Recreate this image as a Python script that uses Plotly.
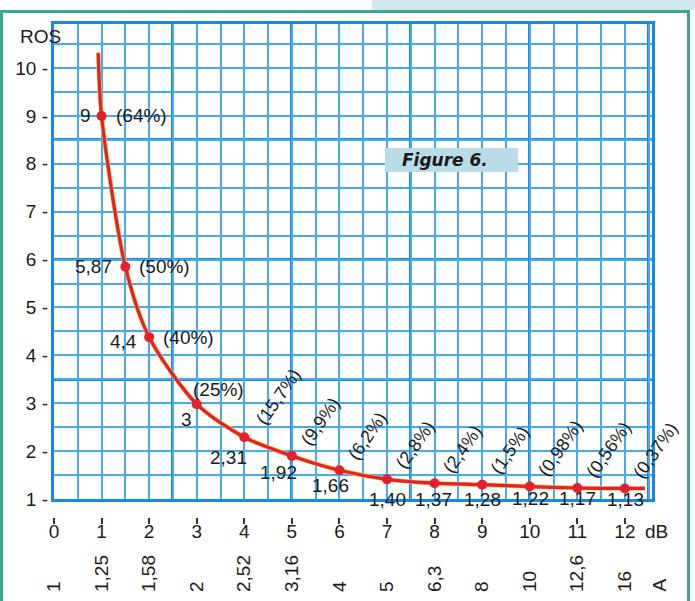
import plotly.graph_objects as go

# ---------------- data ----------------
db_points = [1, 1.5, 2, 3, 4, 5, 6, 7, 8, 9, 10, 11, 12]
ros_points = [9.0, 5.85, 4.38, 2.98, 2.29, 1.90, 1.60, 1.41, 1.33, 1.30, 1.26, 1.23, 1.22]
ros_labels = ["9", "5,87", "4,4", "3", "2,31", "1,92", "1,66", "1,40", "1,37",
              "1,28", "1,22", "1,17", "1,13"]
pct_labels = ["(64%)", "(50%)", "(40%)", "(25%)", "(15,7%)", "(9,9%)", "(6,2%)",
              "(2,8%)", "(2,4%)", "(1,5%)", "(0,98%)", "(0,56%)", "(0,37%)"]
curve_start_db, curve_start_ros = 0.93, 10.32
curve_end_db, curve_end_ros = 12.42, 1.22

db_ticks = list(range(0, 13))
db_tick_labels = [str(v) for v in db_ticks]
amp_tick_labels = ["1", "1,25", "1,58", "2", "2,52", "3,16", "4", "5", "6,3",
                   "8", "10", "12,6", "16"]
ros_ticks = list(range(1, 11))
ros_tick_labels = [f"{v} -" for v in ros_ticks]

# ---------------- styling / layout helpers ----------------
W, H = 695, 601
ML, MR, MT, MB = 54, 43, 24, 5
X_RANGE = [0, 12.57]
Y_RANGE = [1, 10.92]


def px(x):
    return (x - ML) / (W - ML - MR)


def py(y):
    return (H - MB - y) / (H - MT - MB)


FONT = "Liberation Sans, Arial, sans-serif"
GRID_THIN = "rgb(72,170,238)"
GRID_THICK = "rgb(20,138,224)"
RED = "#e5202a"
TEAL = "#3aa897"
TXT = "#1a1a1a"

curve_x = [curve_start_db] + db_points + [curve_end_db]
curve_y = [curve_start_ros] + ros_points + [curve_end_ros]


def helper(xa, ya, xs, ys):
    return go.Scatter(x=xs, y=ys, xaxis=xa, yaxis=ya, mode="markers",
                      marker=dict(opacity=0), hoverinfo="skip", showlegend=False)


fig = go.Figure()
# helper traces carrying the overlay axes (grids / labels)
fig.add_trace(helper("x5", "y", db_ticks, [1] * len(db_ticks)))
fig.add_trace(helper("x", "y4", [0] * len(ros_ticks), ros_ticks))
fig.add_trace(helper("x4", "y", db_ticks, [1] * len(db_ticks)))
fig.add_trace(helper("x", "y3", [0] * len(ros_ticks), ros_ticks))
fig.add_trace(helper("x2", "y", db_ticks, [1] * len(db_ticks)))
fig.add_trace(helper("x3", "y", db_ticks, [1] * len(db_ticks)))
fig.add_trace(helper("x", "y2", [0] * len(ros_ticks), ros_ticks))

# yellow fringe under the red curve
fig.add_trace(go.Scatter(x=curve_x, y=curve_y, mode="lines",
                         line=dict(color="#f4c542", width=4.5, shape="spline", smoothing=0.8),
                         hoverinfo="skip", showlegend=False))
fig.add_trace(go.Scatter(x=curve_x, y=curve_y, mode="lines",
                         line=dict(color=RED, width=3.2, shape="spline", smoothing=0.8),
                         hoverinfo="skip", showlegend=False))
fig.add_trace(go.Scatter(x=db_points, y=ros_points, mode="markers",
                         marker=dict(color=RED, size=10),
                         showlegend=False))

y_dom0 = py(499)
no_lab = dict(showticklabels=False, ticks="", zeroline=False, automargin=False)

fig.update_layout(
    template="none",
    width=W, height=H,
    margin=dict(l=ML, r=MR, t=MT, b=MB, pad=0, autoexpand=False),
    paper_bgcolor="white", plot_bgcolor="white",
    font=dict(family=FONT, size=19, color=TXT),
    # main axes: border only
    xaxis=dict(range=X_RANGE, domain=[0, 1], showgrid=False,
               showline=True, linecolor=GRID_THICK, linewidth=3, mirror=True,
               anchor="y", **no_lab),
    yaxis=dict(range=Y_RANGE, domain=[y_dom0, 1], showgrid=False,
               showline=True, linecolor=GRID_THICK, linewidth=3, mirror=True,
               anchor="x", **no_lab),
    # fine graph-paper grid
    xaxis5=dict(overlaying="x", range=X_RANGE, tick0=0, dtick=0.5, anchor="y",
                showgrid=True, gridcolor=GRID_THIN, gridwidth=2, showline=False, **no_lab),
    yaxis4=dict(overlaying="y", range=Y_RANGE, tick0=1, dtick=0.5, anchor="x",
                showgrid=True, gridcolor=GRID_THIN, gridwidth=2, showline=False, **no_lab),
    # heavy grid lines every 5 squares
    xaxis4=dict(overlaying="x", range=X_RANGE, tick0=0, dtick=2.5, anchor="y",
                showgrid=True, gridcolor=GRID_THICK, gridwidth=3, showline=False, **no_lab),
    yaxis3=dict(overlaying="y", range=Y_RANGE, tick0=1, dtick=2.5, anchor="x",
                showgrid=True, gridcolor=GRID_THICK, gridwidth=3, showline=False, **no_lab),
    # label axes
    xaxis2=dict(overlaying="x", range=X_RANGE, anchor="free", position=py(517),
                side="bottom", tickvals=db_ticks, ticktext=db_tick_labels, automargin=False,
                ticks="outside", ticklen=6, tickwidth=1.5, tickcolor="#333",
                ticklabelstandoff=-9,
                showgrid=False, showline=False, zeroline=False,
                tickfont=dict(size=19, family=FONT, color=TXT)),
    xaxis3=dict(overlaying="x", range=X_RANGE, anchor="free", position=py(592),
                side="top", tickvals=db_ticks, ticktext=amp_tick_labels, automargin=False,
                tickangle=-90, ticks="", showgrid=False, showline=False, zeroline=False,
                tickfont=dict(size=19, family=FONT, color=TXT)),
    yaxis2=dict(overlaying="y", range=Y_RANGE, anchor="x", side="left",
                tickvals=ros_ticks, ticktext=ros_tick_labels, ticks="", automargin=False,
                ticklabelstandoff=5,
                showgrid=False, showline=False, zeroline=False,
                tickfont=dict(size=19, family=FONT, color=TXT)),
)

# ---------------- annotations ----------------
ann = []
# value labels: (xanchor, dx, dy) in screen pixels
val_pos = [("right", -9, 0), ("right", -11, 0), ("right", -10, 4), ("center", -10, 15),
           ("center", -16, 20), ("center", -13, 17), ("center", -9, 15),
           ("center", 0, 20), ("center", -1, 16), ("center", 0, 15),
           ("center", 1, 12), ("center", 0, 11), ("center", 1, 11)]
for x, y, t, (xa, dx, dy) in zip(db_points, ros_points, ros_labels, val_pos):
    ann.append(dict(x=x, y=y, xref="x", yref="y", text=t, showarrow=False,
                    xanchor=xa, yanchor="middle", xshift=dx, yshift=-dy,
                    font=dict(size=19, family=FONT, color=TXT)))

pct_pos = [("left", "middle", 12, 0, 0), ("left", "middle", 12, 0, 0),
           ("left", "middle", 12, 0, 0), ("center", "middle", 22, -15, 0),
           ("left", "bottom", 5, -6, -55)] + [("left", "bottom", 2, -4, -55)] * 8
for x, y, t, (xa, ya, dx, dy, ang) in zip(db_points, ros_points, pct_labels, pct_pos):
    ann.append(dict(x=x, y=y, xref="x", yref="y", text=t, showarrow=False,
                    xanchor=xa, yanchor=ya, xshift=dx, yshift=-dy, textangle=ang,
                    font=dict(size=19 if ang == 0 else 18, family=FONT, color=TXT)))

# axis titles / units
ann.append(dict(x=px(40), y=py(37), xref="paper", yref="paper", text="ROS",
                showarrow=False, xanchor="center", yanchor="middle",
                font=dict(size=19, family=FONT, color=TXT)))
ann.append(dict(x=db_ticks[-1], y=py(531), xref="x", yref="paper", text="dB",
                showarrow=False, xanchor="left", yanchor="middle", xshift=18,
                font=dict(size=19, family=FONT, color=TXT)))
ann.append(dict(x=db_ticks[-1], y=py(593), xref="x", yref="paper", text="A",
                showarrow=False, xanchor="center", yanchor="bottom", xshift=35,
                textangle=-90, font=dict(size=19, family=FONT, color=TXT)))
# figure caption
ann.append(dict(x=px(445), y=py(160), xref="paper", yref="paper",
                text="<b><i>Figure 6.</i></b>", showarrow=False,
                xanchor="center", yanchor="middle",
                font=dict(size=17, family="DejaVu Sans", color=TXT)))
fig.update_layout(annotations=ann)

# ---------------- decorative frame ----------------
shapes = [
    dict(type="rect", xref="paper", yref="paper", x0=px(372), x1=px(700), y0=py(-5), y1=py(10),
         fillcolor="#cfe8ef", line=dict(width=0), layer="below"),
    dict(type="rect", xref="paper", yref="paper", x0=px(1.5), x1=px(688.5), y0=py(11.5), y1=py(620),
         fillcolor="rgba(0,0,0,0)", line=dict(color=TEAL, width=3), layer="above"),
    dict(type="rect", xref="paper", yref="paper", x0=px(385), x1=px(518), y0=py(172), y1=py(148),
         fillcolor="#b8dce8", line=dict(width=0), layer="above"),
]
fig.update_layout(shapes=shapes)

fig.write_html("out.html", config={"displayModeBar": False},
               post_script="document.body.style.margin='0';document.body.style.padding='0';")
